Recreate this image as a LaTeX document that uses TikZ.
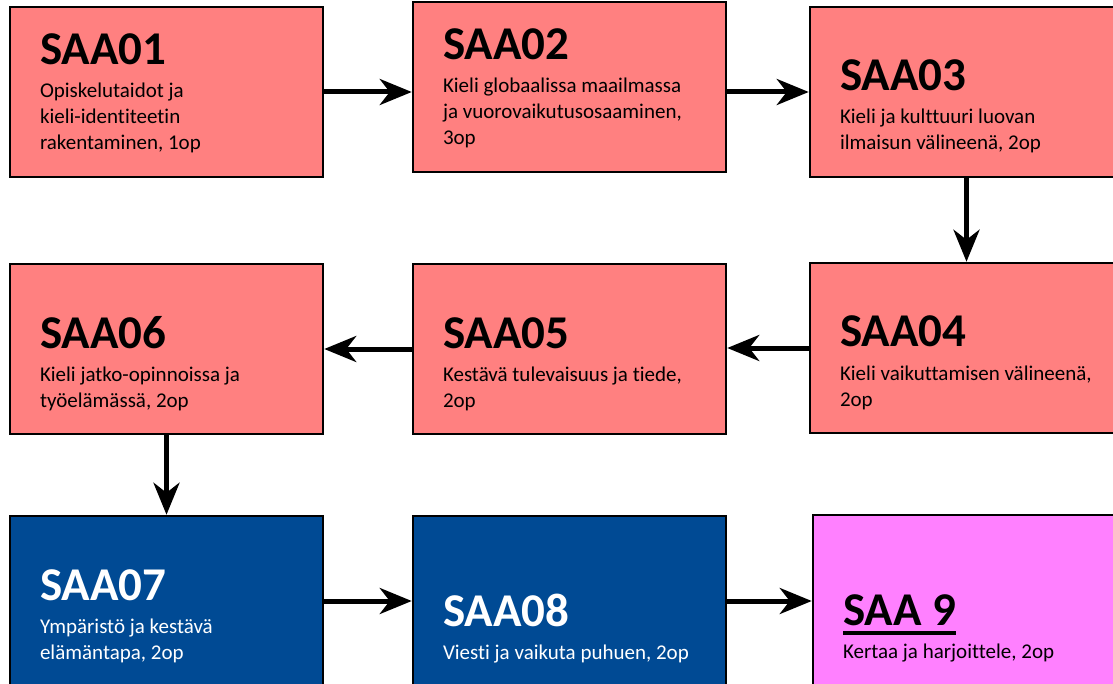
\documentclass[tikz,border=0pt]{standalone}
\usepackage{fontspec}
\setmainfont[Ligatures=NoCommon]{Carlito}
\usetikzlibrary{arrows.meta,positioning}
\definecolor{saaPink}{RGB}{255,128,128}
\definecolor{saaBlue}{RGB}{0,74,148}
\definecolor{saaMagenta}{RGB}{255,128,255}
% title on top, description below, last line sits on the box base
\newcommand{\saaText}[2]{\parbox[b]{253pt}{{\fontsize{47}{47}\selectfont\bfseries #1\par}\vspace{7pt}{\fontsize{21}{26}\selectfont #2\par}}}
\newcommand{\saaUline}[1]{\leavevmode\setbox0\hbox{#1}\rlap{\vrule width\wd0 height -6pt depth 10pt}\box0}

\begin{document}
\begin{tikzpicture}[x=1pt, y=-1pt,
    course/.style={draw=black, line width=2.5pt, fill=saaPink, inner xsep=30pt, inner ysep=0pt, text height=143pt, text depth=27pt},
    blue course/.style={course, fill=saaBlue, text=white},
    extra course/.style={course, fill=saaMagenta},
    flow/.style={-{Stealth[length=32pt,width=26pt,inset=10pt]}, line width=5pt}]
    \clip (0,0) rectangle (1113,684);

    \node[course] (SAA01) at (166.5, 92) {\saaText{SAA01}{Opiskelutaidot ja\newline kieli-identiteetin\newline rakentaminen, 1op}};
    \node[course] (SAA02) at (569.5, 87) {\saaText{SAA02}{Kieli globaalissa maailmassa\newline ja vuorovaikutusosaaminen,\newline 3op}};
    \node[course] (SAA03) at (966.5, 92) {\saaText{SAA03}{Kieli ja kulttuuri luovan\newline ilmaisun välineenä, 2op}};
    \node[course] (SAA04) at (966.5, 348) {\saaText{SAA04}{Kieli vaikuttamisen välineenä,\newline 2op}};
    \node[course] (SAA05) at (569.5, 349) {\saaText{SAA05}{Kestävä tulevaisuus ja tiede,\newline 2op}};
    \node[course] (SAA06) at (166.5, 349) {\saaText{SAA06}{Kieli jatko-opinnoissa ja\newline työelämässä, 2op}};
    \node[blue course] (SAA07) at (166.5, 601) {\saaText{SAA07}{Ympäristö ja kestävä\newline elämäntapa, 2op}};
    \node[blue course] (SAA08) at (569.5, 601) {\saaText{SAA08}{Viesti ja vaikuta puhuen, 2op}};
    \node[extra course] (SAA9) at (969.5, 600) {\saaText{\saaUline{SAA 9}}{Kertaa ja harjoittele, 2op}};

    \draw[flow] (SAA01.east) -- (SAA01.east -| SAA02.west);
    \draw[flow] (SAA02.east |- SAA03.west) -- (SAA03.west);
    \draw[flow] (SAA03.south) -- (SAA04.north);
    \draw[flow] (SAA04.west) -- (SAA04.west -| SAA05.east);
    \draw[flow] (SAA05.west) -- (SAA05.west -| SAA06.east);
    \draw[flow] (SAA06.south) -- (SAA07.north);
    \draw[flow] (SAA07.east) -- (SAA08.west);
    \draw[flow] (SAA08.east) -- (SAA08.east -| SAA9.west);
\end{tikzpicture}
\end{document}
